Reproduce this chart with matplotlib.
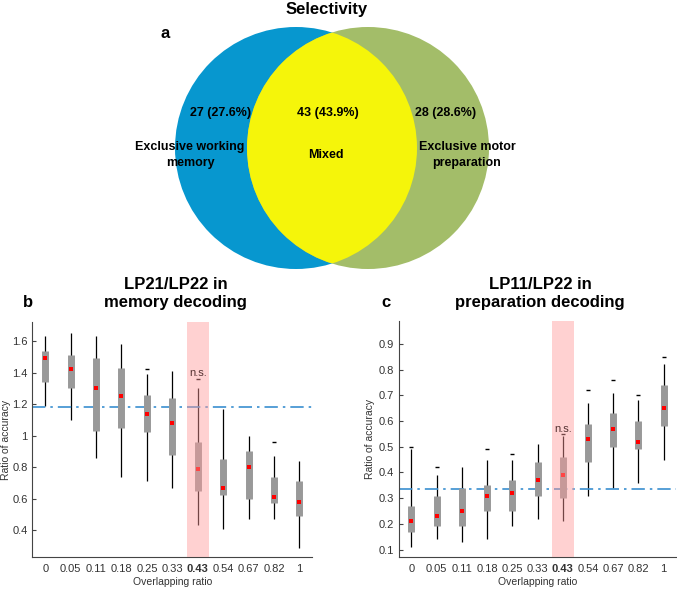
import matplotlib
matplotlib.use("Agg")
import matplotlib.pyplot as plt
from matplotlib.patches import Circle

plt.rcParams["font.family"] = ["Liberation Sans", "DejaVu Sans"]

# --- Venn data ---
venn_counts = [27, 43, 28]
venn_pct = [27.6, 43.9, 28.6]
venn_names = ["Exclusive working\nmemory", "Mixed", "Exclusive motor\npreparation"]

# --- box data, panel b (memory decoding) ---
ratios = ["0", "0.05", "0.11", "0.18", "0.25", "0.33", "0.43", "0.54", "0.67", "0.82", "1"]
b_whislo = [1.19, 1.10, 0.86, 0.74, 0.71, 0.67, 0.43, 0.41, 0.47, 0.47, 0.29]
b_q1 = [1.34, 1.30, 1.03, 1.05, 1.02, 0.88, 0.65, 0.62, 0.60, 0.57, 0.49]
b_med = [1.49, 1.42, 1.30, 1.25, 1.14, 1.08, 0.79, 0.67, 0.80, 0.61, 0.58]
b_q3 = [1.54, 1.51, 1.49, 1.43, 1.26, 1.24, 0.96, 0.85, 0.90, 0.74, 0.71]
b_whishi = [1.63, 1.65, 1.63, 1.58, 1.39, 1.41, 1.30, 1.17, 1.00, 0.87, 0.84]
b_fliers = [[], [], [], [], [1.42], [], [1.36], [], [], [0.96], []]
b_chance = 1.18

# --- box data, panel c (preparation decoding) ---
c_whislo = [0.11, 0.14, 0.13, 0.14, 0.19, 0.22, 0.21, 0.31, 0.34, 0.36, 0.45]
c_q1 = [0.17, 0.19, 0.19, 0.25, 0.25, 0.31, 0.30, 0.44, 0.50, 0.49, 0.58]
c_med = [0.21, 0.23, 0.25, 0.31, 0.32, 0.37, 0.39, 0.53, 0.57, 0.52, 0.65]
c_q3 = [0.27, 0.31, 0.34, 0.35, 0.37, 0.44, 0.46, 0.59, 0.63, 0.60, 0.74]
c_whishi = [0.49, 0.39, 0.42, 0.45, 0.45, 0.51, 0.54, 0.67, 0.71, 0.68, 0.82]
c_fliers = [[0.50], [0.42], [], [0.49], [0.47], [], [0.55], [0.72], [0.76], [0.70], [0.85]]
c_chance = 0.335

ns_index = 6

W, H = 677, 590
fig = plt.figure(figsize=(W / 100, H / 100), dpi=100)

# ---------- panel a: venn, drawn in pixel space ----------
va = fig.add_axes([0, 0, 1, 1])
va.set_xlim(0, W)
va.set_ylim(H, 0)
va.axis("off")
va.set_zorder(-1)
r = 121
cl, cr = (296, 148), (368, 148)
va.add_patch(Circle(cl, r, color="#0797cf", lw=0))
va.add_patch(Circle(cr, r, color="#a3bd69", lw=0))
# lens = right circle clipped by left circle
lens = Circle(cr, r, color="#f5f50a", lw=0)
va.add_patch(lens)
clip = Circle(cl, r, transform=va.transData)
lens.set_clip_path(clip)

tx = [221, 328, 446]
nx = [190, 326, 467]
for i in range(3):
    va.text(tx[i], 113, f"{venn_counts[i]} ({venn_pct[i]}%)", ha="center", va="center",
            fontsize=9, fontweight="bold")
    va.text(nx[i], 155, venn_names[i], ha="center", va="center",
            fontsize=9, fontweight="bold", linespacing=1.35)

fig.text(0.4826, 0.984, "Selectivity", ha="center", va="center", fontsize=12, fontweight="bold")
fig.text(0.2437, 0.944, "a", ha="center", va="center", fontsize=12, fontweight="bold")


def box_panel(ax, whislo, q1, med, q3, whishi, fliers, chance, ylim, yticks, ns_y):
    xs = list(range(len(ratios)))
    ax.vlines(xs, whislo, whishi, color="black", lw=0.9, zorder=2)
    ax.vlines(xs, q1, q3, color="#999999", lw=5, zorder=3)
    ax.scatter(xs, med, marker="s", s=5, color="red", lw=0, zorder=4)
    for x, fl in zip(xs, fliers):
        if fl:
            ax.scatter([x] * len(fl), fl, marker="_", s=7, color="black", lw=1, zorder=4)
    ax.axhline(chance, color="#3a8fd0", lw=1.2, ls=(0, (8, 3, 1.5, 3)), zorder=2)
    ax.axvspan(ns_index - 0.42, ns_index + 0.43, color="#ff9a9a", alpha=0.45, lw=0, zorder=5)
    ax.text(ns_index, ns_y, "n.s.", ha="center", va="center", fontsize=8, color="#553333", zorder=6)
    ax.set_xlim(-0.5, 10.5)
    ax.set_ylim(*ylim)
    ax.set_xticks(xs)
    ax.set_xticklabels(ratios)
    ax.get_xticklabels()[ns_index].set_fontweight("bold")
    ax.set_yticks(yticks)
    ax.set_yticklabels([f"{t:g}" for t in yticks])
    for s in ["top", "right"]:
        ax.spines[s].set_visible(False)
    for s in ["left", "bottom"]:
        ax.spines[s].set_color("#444444")
        ax.spines[s].set_linewidth(0.8)
    ax.tick_params(direction="in", length=3, labelsize=8, colors="#444444", labelcolor="#333333")
    ax.tick_params(axis="x", length=0, pad=5)
    ax.set_xlabel("Overlapping ratio", fontsize=7.5, color="#333333")
    ax.set_ylabel("Ratio of accuracy", fontsize=7.5, color="#333333")
    ax.xaxis.set_label_coords(0.5, -0.085)


axb = fig.add_axes([0.048, 0.056, 0.413, 0.398])
box_panel(axb, b_whislo, b_q1, b_med, b_q3, b_whishi, b_fliers, b_chance,
          (0.23, 1.72), [0.4, 0.6, 0.8, 1.0, 1.2, 1.4, 1.6], 1.40)
axb.yaxis.set_label_coords(-0.078, 0.5)

axc = fig.add_axes([0.589, 0.0555, 0.41, 0.401])
box_panel(axc, c_whislo, c_q1, c_med, c_q3, c_whishi, c_fliers, c_chance,
          (0.07, 0.99), [0.1, 0.2, 0.3, 0.4, 0.5, 0.6, 0.7, 0.8, 0.9], 0.567)
axc.yaxis.set_label_coords(-0.085, 0.5)

fig.text(0.2595, 0.503, "LP21/LP22 in\nmemory decoding", ha="center", va="center",
         fontsize=12, fontweight="bold", linespacing=1.25)
fig.text(0.7976, 0.503, "LP11/LP22 in\npreparation decoding", ha="center", va="center",
         fontsize=12, fontweight="bold", linespacing=1.25)
fig.text(0.0414, 0.488, "b", ha="center", va="center", fontsize=12, fontweight="bold")
fig.text(0.570, 0.488, "c", ha="center", va="center", fontsize=12, fontweight="bold")

fig.savefig("out.png", dpi=100)
